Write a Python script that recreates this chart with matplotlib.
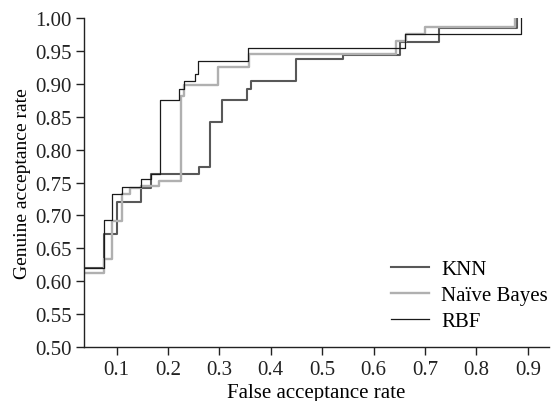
import matplotlib
matplotlib.use("Agg")
import matplotlib.pyplot as plt

plt.rcParams['font.family'] = ['Liberation Serif', 'DejaVu Serif']

# ROC-style step data (false acceptance rate -> genuine acceptance rate)
knn_far = [0.036, 0.075, 0.101, 0.147, 0.166, 0.260, 0.281, 0.306, 0.353, 0.362, 0.450, 0.540, 0.652, 0.727, 0.880, 0.880]
knn_gar = [0.620, 0.672, 0.721, 0.742, 0.763, 0.773, 0.842, 0.876, 0.892, 0.905, 0.937, 0.944, 0.964, 0.985, 1.000, 1.000]

nb_far = [0.036, 0.075, 0.091, 0.111, 0.127, 0.147, 0.183, 0.225, 0.232, 0.297, 0.358, 0.643, 0.663, 0.701, 0.876, 0.876]
nb_gar = [0.612, 0.633, 0.692, 0.733, 0.742, 0.744, 0.753, 0.882, 0.898, 0.925, 0.945, 0.965, 0.976, 0.986, 1.000, 1.000]

rbf_far = [0.036, 0.075, 0.091, 0.111, 0.148, 0.166, 0.184, 0.222, 0.232, 0.252, 0.258, 0.355, 0.662, 0.886, 0.886]
rbf_gar = [0.620, 0.693, 0.733, 0.743, 0.755, 0.763, 0.876, 0.892, 0.905, 0.915, 0.935, 0.954, 0.976, 1.000, 1.000]

x_ticks = [0.1, 0.2, 0.3, 0.4, 0.5, 0.6, 0.7, 0.8, 0.9]
y_ticks = [0.50, 0.55, 0.60, 0.65, 0.70, 0.75, 0.80, 0.85, 0.90, 0.95, 1.00]

fig = plt.figure(figsize=(5.54, 4.02), dpi=100)
ax = fig.add_axes([0.1516, 0.1343, 0.84, 0.8184])

ax.plot(knn_far, knn_gar, drawstyle='steps-post', color='#585858', lw=1.5, label='KNN')
ax.plot(nb_far, nb_gar, drawstyle='steps-post', color='#b0b0b0', lw=1.7, label='Naïve Bayes')
ax.plot(rbf_far, rbf_gar, drawstyle='steps-post', color='#1a1a1a', lw=0.9, label='RBF')

ax.set_xlim(0.0365, 0.942)
ax.set_ylim(0.5, 1.0)
ax.set_xticks(x_ticks)
ax.set_xticklabels([f"{v:.1f}" for v in x_ticks])
ax.set_yticks(y_ticks)
ax.set_yticklabels([f"{v:.2f}" for v in y_ticks])

for s in ['top', 'right']:
    ax.spines[s].set_visible(False)
for s in ['left', 'bottom']:
    ax.spines[s].set_linewidth(1.0)
    ax.spines[s].set_color('#222222')

ax.tick_params(direction='out', length=6, width=1.0, labelsize=15, colors='#222222', pad=3)
ax.set_xlabel('False acceptance rate', fontsize=15, labelpad=3)
ax.set_ylabel('Genuine acceptance rate', fontsize=14, labelpad=3)

ax.legend(loc='upper left', bbox_to_anchor=(0.66, 0.265), frameon=False, fontsize=15,
          handlelength=1.8, handletextpad=0.6, labelspacing=0.3, borderpad=0, borderaxespad=0)

fig.savefig('out.png', dpi=100)
